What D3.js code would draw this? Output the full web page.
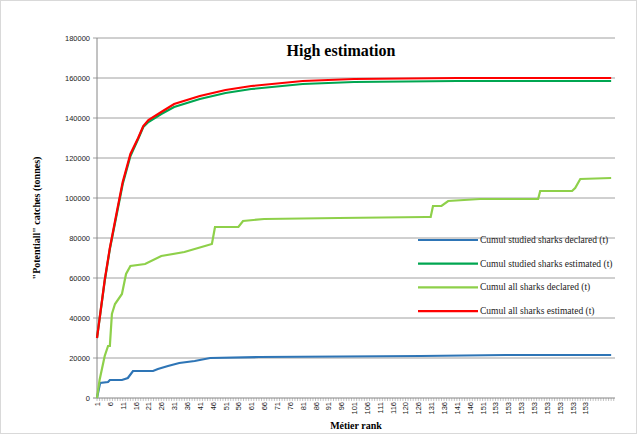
<!DOCTYPE html>
<html><head><meta charset="utf-8">
<script src="https://cdn.jsdelivr.net/npm/d3@7"></script>
<style>body{margin:0;background:#fff}</style>
</head><body>
<svg width="637" height="434"></svg>
<script>
// x labels (every 5th rank position)
var tickLabels = ["1","6","11","16","21","26","31","36","41","46","51","56","61","66","71","76","81","86","91","96","101","106","111","116","120","126","131","136","141","146","151","153","153","153","153","153","153","153","153"];
var yTicks = [0,20000,40000,60000,80000,100000,120000,140000,160000,180000];

// series: [position index, value]
var studiedDeclared = [[0,0],[1.2,7500],[4.3,8000],[5,9000],[9.7,9000],[12,10000],[14,13500],[21.8,13500],[23.7,14500],[27.6,16000],[32,17500],[38,18500],[44,20000],[63,20500],[126,21000],[159,21500],[200,21500]];
var studiedEstimated = [[0,30000],[3,58500],[5,74500],[8,94000],[10,107000],[13,121000],[16,129500],[18,135500],[20,138000],[25,142000],[30,145500],[40,149500],[50,152500],[60,154500],[80,157000],[100,158000],[140,158500],[200,158500]];
var allDeclared = [[0,0],[1,9000],[3,21000],[4.3,26000],[5,26000],[5.8,42000],[7,47000],[9.7,52000],[11.3,62000],[13,66000],[18.7,67000],[25,71000],[34,73000],[42,76000],[44.7,77000],[45.9,85500],[55,85500],[56.8,88500],[65,89500],[94,90000],[128,90500],[129.8,90500],[130.7,96000],[134,96000],[136.6,98500],[149,99500],[171.6,99500],[172.4,103500],[184.8,103500],[186,105000],[188,109500],[200,110000]];
var allEstimated = [[0,30000],[3,59000],[5,75000],[8,95000],[10,108000],[13,122000],[16,130000],[18,136000],[20,139000],[25,143000],[30,147000],[40,151000],[50,154000],[60,156000],[80,158500],[100,159500],[140,160000],[200,160000]];

var series = [
  {name:"Cumul studied sharks declared (t)", data:studiedDeclared, color:"#2e75b6"},
  {name:"Cumul studied sharks estimated (t)", data:studiedEstimated, color:"#00a651"},
  {name:"Cumul all sharks declared (t)", data:allDeclared, color:"#8ed04a"},
  {name:"Cumul all sharks estimated (t)", data:allEstimated, color:"#ff0000"}
];

var svg = d3.select("svg");
svg.append("rect").attr("x",0.5).attr("y",0.5).attr("width",636).attr("height",433)
  .attr("fill","none").attr("stroke","#d9d9d9");

var pLeft = 97, pRight = 615, pTop = 38, pBottom = 398;
var x = d3.scaleLinear().domain([0,201.5]).range([pLeft,pRight]);
var y = d3.scaleLinear().domain([0,180000]).range([pBottom,pTop]);

var grid = svg.append("g");
grid.selectAll("line").data(yTicks).enter().append("line")
  .attr("x1",pLeft-4).attr("x2",pRight)
  .attr("y1",d=>y(d)).attr("y2",d=>y(d))
  .attr("stroke",d=>d===0?"#868686":"#a0a0a0").attr("stroke-width",1);
svg.append("line").attr("x1",pLeft).attr("x2",pLeft).attr("y1",pTop).attr("y2",pBottom).attr("stroke","#868686");

svg.append("g").selectAll("text").data(yTicks).enter().append("text")
  .attr("x",pLeft-7).attr("y",d=>y(d)+3).attr("text-anchor","end")
  .attr("font-family","Liberation Sans, Arial").attr("font-size",7.5).attr("fill","#222")
  .text(d=>d);

// x tick marks each position, labels every 5
var ticks = d3.range(0,202);
svg.append("g").selectAll("line").data(ticks).enter().append("line")
  .attr("x1",d=>x(d)).attr("x2",d=>x(d)).attr("y1",pBottom).attr("y2",pBottom+3)
  .attr("stroke","#868686").attr("stroke-width",0.5);
svg.append("g").selectAll("text").data(tickLabels).enter().append("text")
  .attr("transform",(d,i)=>"translate("+(x(i*5)+3)+","+(pBottom+4)+") rotate(-90)")
  .attr("text-anchor","end")
  .attr("font-family","Liberation Sans, Arial").attr("font-size",7.5).attr("fill","#222")
  .text(d=>d);

var line = d3.line().x(d=>x(d[0])).y(d=>y(d[1]));
svg.append("g").selectAll("path").data(series).enter().append("path")
  .attr("d",d=>line(d.data)).attr("fill","none")
  .attr("stroke",d=>d.color).attr("stroke-width",2.2);

var leg = svg.append("g").selectAll("g").data(series).enter().append("g")
  .attr("transform",(d,i)=>"translate(418,"+(240+i*23.7)+")");
leg.append("line").attr("x1",0).attr("x2",60).attr("stroke",d=>d.color).attr("stroke-width",2.2);
leg.append("text").attr("x",62).attr("y",3).attr("font-family","Liberation Serif, Times New Roman")
  .attr("font-size",9.5).attr("fill","#222").text(d=>d.name);

svg.append("text").attr("x",341).attr("y",56).attr("text-anchor","middle")
  .attr("font-family","Liberation Serif, Times New Roman").attr("font-weight","bold")
  .attr("font-size",16).text("High estimation");
svg.append("text").attr("x",356).attr("y",429).attr("text-anchor","middle")
  .attr("font-family","Liberation Serif, Times New Roman").attr("font-weight","bold")
  .attr("font-size",10).text("Métier rank");
svg.append("text").attr("transform","translate(40,218) rotate(-90)").attr("text-anchor","middle")
  .attr("font-family","Liberation Serif, Times New Roman").attr("font-weight","bold")
  .attr("font-size",10).text("\"Potentiall\" catches (tonnes)");
</script>
</body></html>
